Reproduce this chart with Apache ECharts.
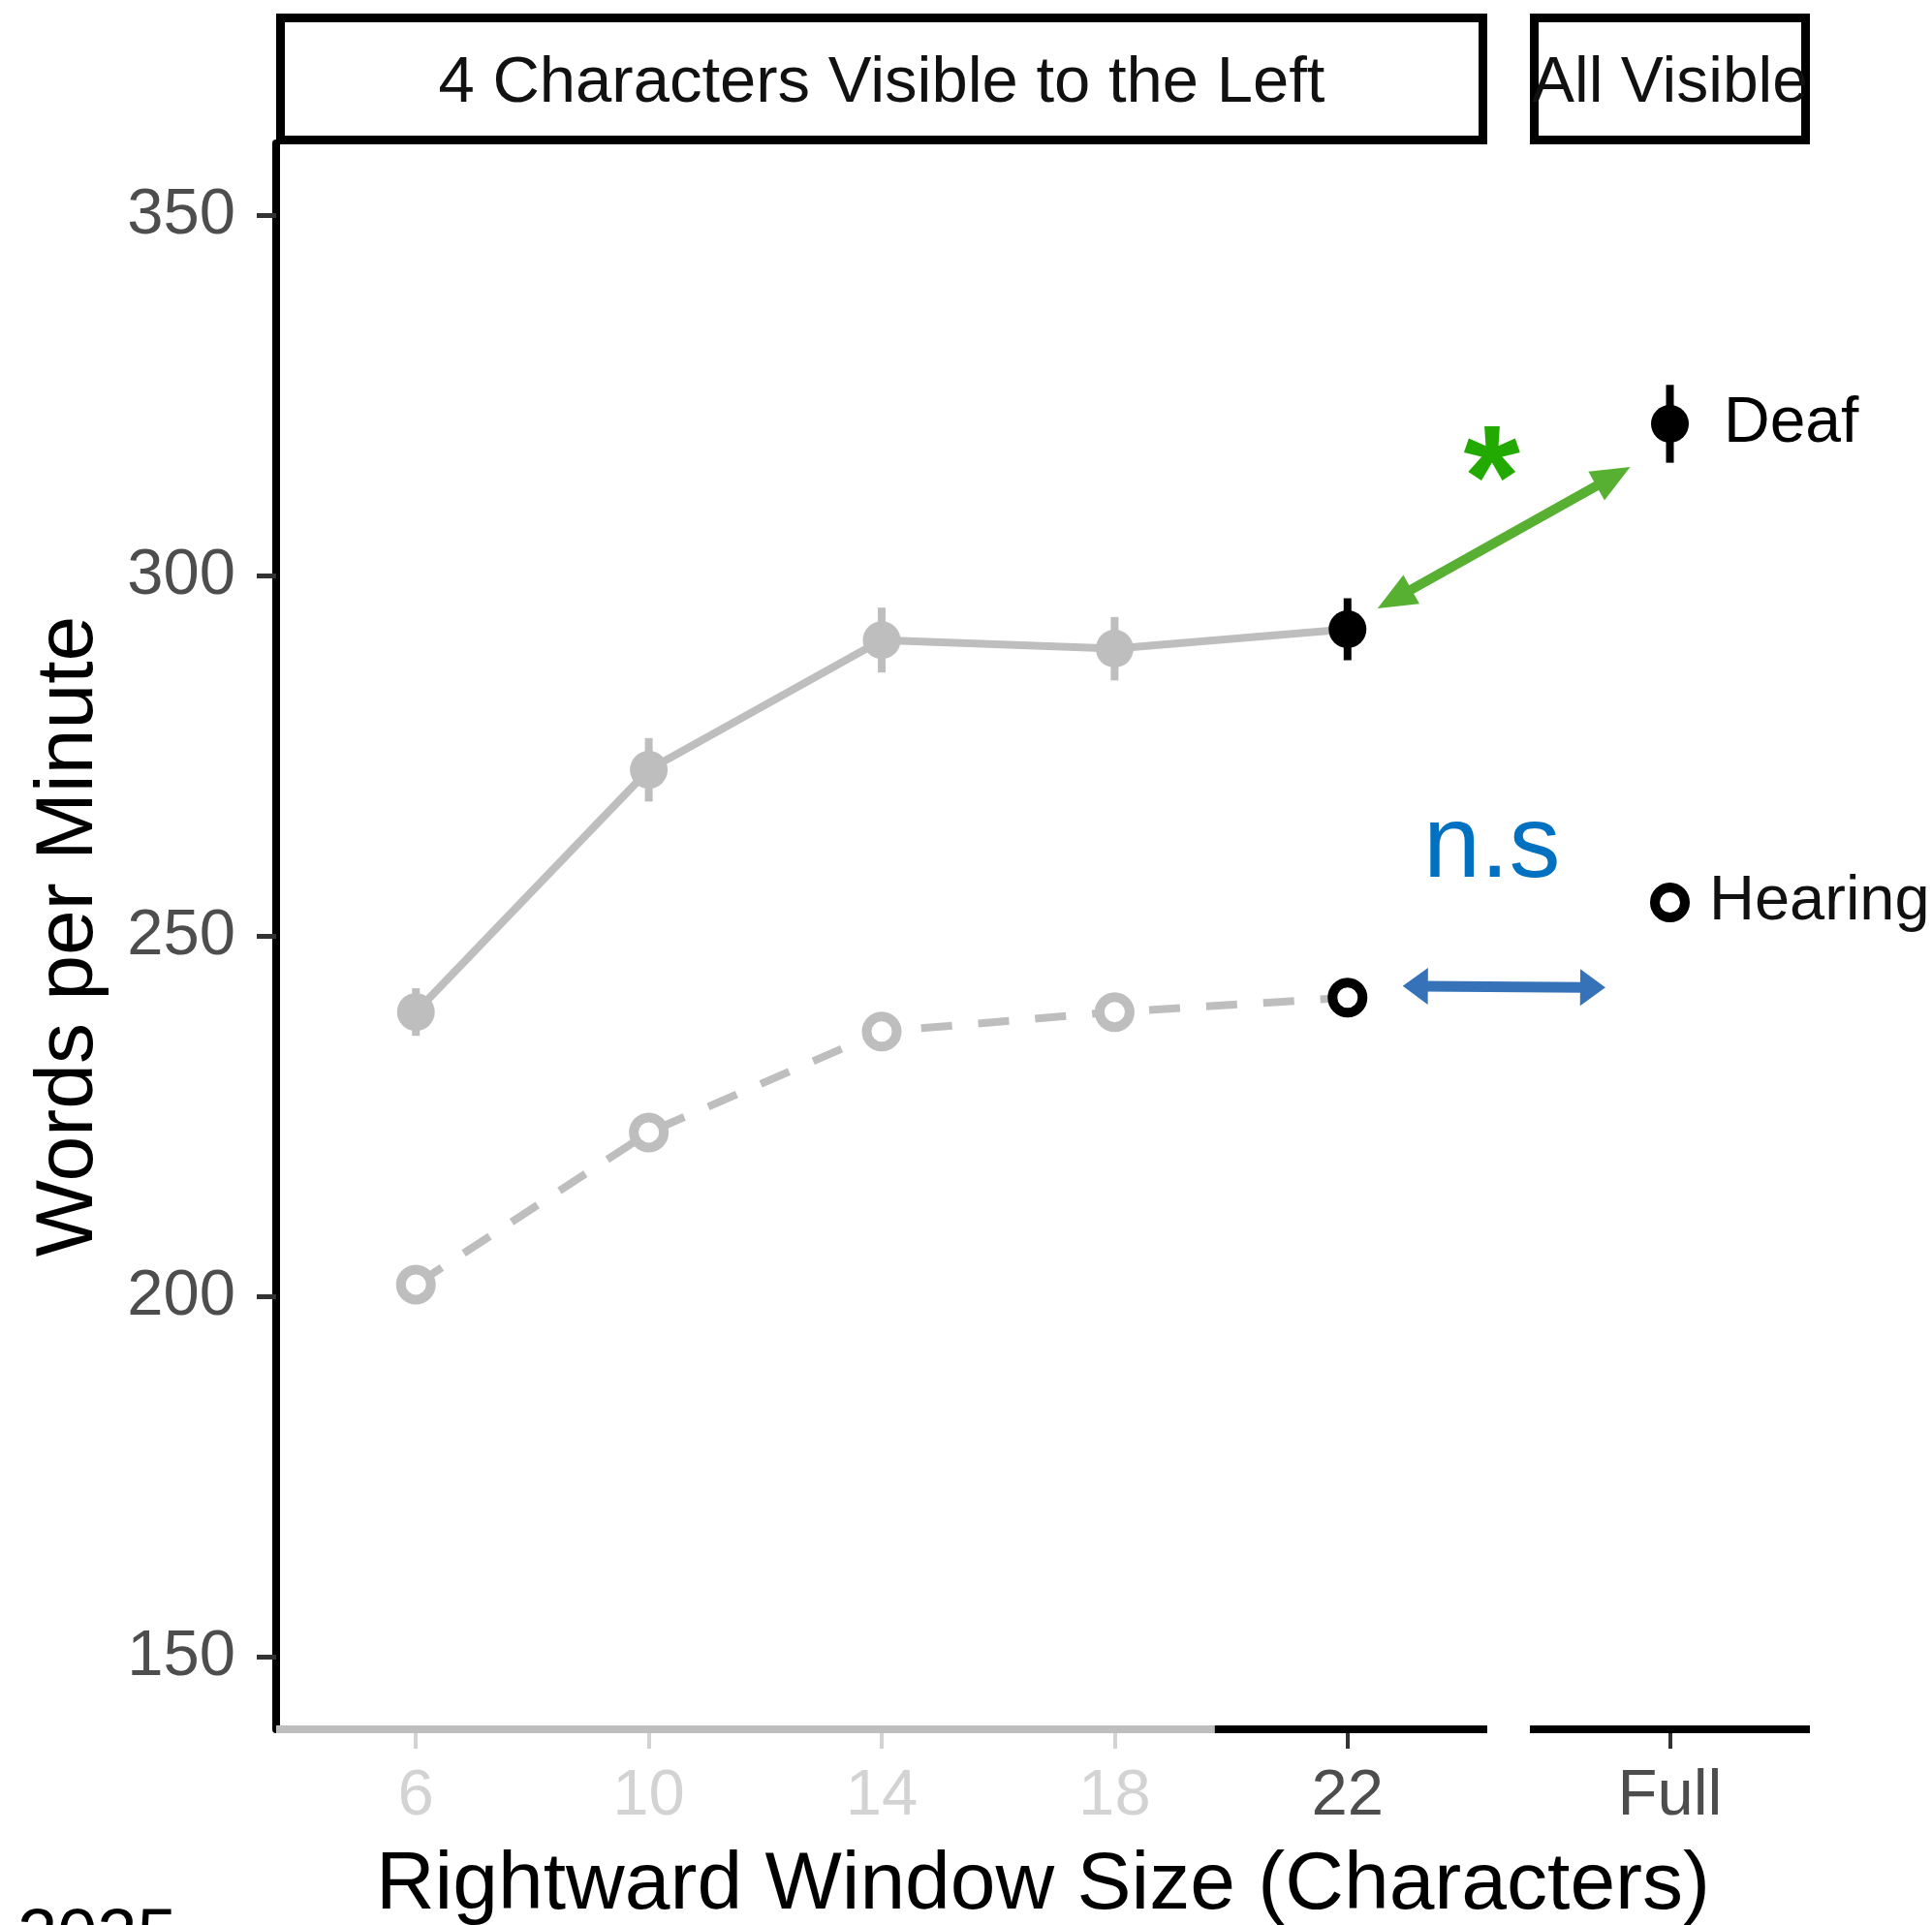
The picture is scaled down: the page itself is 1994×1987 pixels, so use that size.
<!DOCTYPE html>
<html>
<head>
<meta charset="utf-8">
<script src="https://cdn.jsdelivr.net/npm/echarts@6/dist/echarts.min.js"></script>
<style>
  html, body { margin: 0; padding: 0; background: #ffffff; }
  #chart { width: 1994px; height: 1987px; }
</style>
</head>
<body>
<div id="chart"></div>
<script>
// Reading speed by rightward window size (moving-window paradigm)
const categories = ['6', '10', '14', '18', '22'];
const fullCategories = ['Full'];
const deafWpm = [239.5, 273.1, 291.1, 289.9, 292.6];
const deafSe = [3.3, 4.4, 4.5, 4.4, 4.3];
const hearingWpm = [201.7, 222.8, 236.8, 239.5, 241.5];
const deafFullWpm = [321.1];
const deafFullSe = [5.4];
const hearingFullWpm = [254.7];
const yTicks = [150, 200, 250, 300, 350];
const panelTitles = ['4 Characters Visible to the Left', 'All Visible'];
const groupNames = ['Deaf', 'Hearing'];
const yearText = '2025';

const FONT = '"Liberation Sans", Arial, Helvetica, sans-serif';
const GREY = '#BEBEBE';
const LIGHT = '#D3D3D3';
const DARK = '#4D4D4D';
const BLACK = '#000000';
const GREEN_TEXT = '#22AA00';
const GREEN_ARROW = '#58B033';
const BLUE_TEXT = '#0070C0';
const BLUE_ARROW = '#3672B8';

const Y_MIN = 140, Y_MAX = 360;
const last = categories.length - 1;
const idx = categories.map((c, i) => i + 1);

const grids = [
  { left: 285, top: 148, width: 1250, height: 1637 },
  { left: 1579, top: 148, width: 289, height: 1637 }
];

const chart = echarts.init(document.getElementById('chart'), null, { renderer: 'canvas' });

function xAxisBase(gridIndex, n) {
  return {
    type: 'value', gridIndex: gridIndex, position: 'bottom',
    min: 0.4, max: n + 0.6,
    axisLine: { show: false },
    splitLine: { show: false },
    axisPointer: { show: false }
  };
}

const xAxes = [
  Object.assign(xAxisBase(0, categories.length), {
    axisTick: { show: true, customValues: idx.slice(0, last), length: 20,
      lineStyle: { color: LIGHT, width: 4 } },
    axisLabel: { show: true, customValues: idx.slice(0, last), margin: 36,
      formatter: v => categories[Math.round(v) - 1],
      color: LIGHT, fontSize: 67, fontFamily: FONT }
  }),
  Object.assign(xAxisBase(0, categories.length), {
    axisTick: { show: true, customValues: [last + 1], length: 20,
      lineStyle: { color: '#333333', width: 4 } },
    axisLabel: { show: true, customValues: [last + 1], margin: 36,
      formatter: v => categories[Math.round(v) - 1],
      color: DARK, fontSize: 67, fontFamily: FONT }
  }),
  Object.assign(xAxisBase(1, fullCategories.length), {
    axisTick: { show: true, customValues: [1], length: 20,
      lineStyle: { color: '#333333', width: 4 } },
    axisLabel: { show: true, customValues: [1], margin: 36,
      formatter: v => fullCategories[Math.round(v) - 1],
      color: DARK, fontSize: 67, fontFamily: FONT }
  })
];

const yAxes = [
  {
    type: 'value', gridIndex: 0, min: Y_MIN, max: Y_MAX,
    axisLine: { show: true, lineStyle: { color: BLACK, width: 8 } },
    axisTick: { show: true, customValues: yTicks, length: 20,
      lineStyle: { color: '#333333', width: 5 } },
    axisLabel: { show: true, customValues: yTicks, margin: 42,
      color: DARK, fontSize: 67, fontFamily: FONT },
    splitLine: { show: false }
  },
  {
    type: 'value', gridIndex: 1, min: Y_MIN, max: Y_MAX, show: false,
    splitLine: { show: false }
  }
];

// vertical standard-error bars
function errorBarSeries(xAxisIndex, yAxisIndex, xs, means, ses, colorFor) {
  return {
    type: 'custom', xAxisIndex, yAxisIndex, silent: true, z: 3,
    data: means.map((m, i) => [xs[i], m - ses[i], m + ses[i], i]),
    renderItem: function (params, api) {
      const x = api.value(0);
      const lo = api.coord([x, api.value(1)]);
      const hi = api.coord([x, api.value(2)]);
      return {
        type: 'line',
        shape: { x1: lo[0], y1: lo[1], x2: hi[0], y2: hi[1] },
        style: { stroke: colorFor(api.value(3)), lineWidth: 8 }
      };
    }
  };
}

// bottom axis rule drawn in data space
const axisBreak = 4.43;
function ruleSeries(xAxisIndex, yAxisIndex, x0, x1, color) {
  return {
    type: 'line', xAxisIndex, yAxisIndex, silent: true, clip: false, z: 1,
    symbol: 'none', data: [[x0, Y_MIN], [x1, Y_MIN]],
    lineStyle: { color: color, width: 8, cap: 'butt' }
  };
}

const series = [
  ruleSeries(0, 0, 0.4, axisBreak, GREY),
  ruleSeries(0, 0, axisBreak, categories.length + 0.6, BLACK),
  ruleSeries(2, 1, 0.4, fullCategories.length + 0.6, BLACK),

  errorBarSeries(0, 0, idx, deafWpm, deafSe, i => (i === last ? BLACK : GREY)),
  {
    name: groupNames[0], type: 'line', xAxisIndex: 0, yAxisIndex: 0, z: 4,
    data: deafWpm.map((v, i) => ({
      value: [i + 1, v],
      itemStyle: { color: i === last ? BLACK : GREY }
    })),
    symbol: 'circle', symbolSize: 39,
    lineStyle: { color: GREY, width: 8 },
    itemStyle: { color: GREY, borderWidth: 0, opacity: 1 }
  },
  {
    name: groupNames[1], type: 'line', xAxisIndex: 0, yAxisIndex: 0, z: 4,
    data: hearingWpm.map((v, i) => ({
      value: [i + 1, v],
      itemStyle: { borderColor: i === last ? BLACK : GREY }
    })),
    symbol: 'circle', symbolSize: 31,
    lineStyle: { color: GREY, width: 8, type: [32, 27] },
    itemStyle: { color: '#ffffff', borderColor: GREY, borderWidth: 10, opacity: 1 }
  },

  errorBarSeries(2, 1, [1], deafFullWpm, deafFullSe, () => BLACK),
  {
    name: groupNames[0] + ' ' + fullCategories[0], type: 'scatter', xAxisIndex: 2, yAxisIndex: 1, z: 4,
    data: deafFullWpm.map((v, i) => [i + 1, v]),
    symbol: 'circle', symbolSize: 39,
    itemStyle: { color: BLACK, opacity: 1 },
    label: { show: true, position: 'right', distance: 36, formatter: groupNames[0],
      color: BLACK, fontSize: 66, fontFamily: FONT }
  },
  {
    name: groupNames[1] + ' ' + fullCategories[0], type: 'scatter', xAxisIndex: 2, yAxisIndex: 1, z: 4,
    data: hearingFullWpm.map((v, i) => [i + 1, v]),
    symbol: 'circle', symbolSize: 31,
    itemStyle: { color: '#ffffff', borderColor: BLACK, borderWidth: 10, opacity: 1 },
    label: { show: true, position: 'right', distance: 20, formatter: groupNames[1],
      color: '#111111', fontSize: 65, fontFamily: FONT }
  }
];

chart.setOption({
  backgroundColor: '#ffffff',
  animation: false,
  grid: grids.map(g => Object.assign({ containLabel: false }, g)),
  xAxis: xAxes,
  yAxis: yAxes,
  series: series
});

// ----- facet strips, titles and comparison annotations -----
function px(gridIdx, x, y) {
  return chart.convertToPixel({ xAxisIndex: gridIdx === 0 ? 0 : 2, yAxisIndex: gridIdx }, [x, y]);
}

function textEl(text, x, y, size, color, extra, weight) {
  return Object.assign({
    type: 'text', x: x, y: y, silent: true, z: 10,
    style: {
      text: text, fill: color, fontSize: size, fontFamily: FONT, fontWeight: weight || 'normal',
      align: 'center', verticalAlign: 'middle',
      textAlign: 'center', textVerticalAlign: 'middle'
    }
  }, extra || {});
}

function arrowEls(a, b, color, w, headLen, headHalf) {
  const dx = b[0] - a[0], dy = b[1] - a[1];
  const L = Math.hypot(dx, dy);
  const ux = dx / L, uy = dy / L, nx = -uy, ny = ux;
  const inset = headLen * 0.8;
  return [
    { type: 'line', silent: true, z: 10,
      shape: { x1: a[0] + ux * inset, y1: a[1] + uy * inset, x2: b[0] - ux * inset, y2: b[1] - uy * inset },
      style: { stroke: color, lineWidth: w } },
    { type: 'polygon', silent: true, z: 10,
      shape: { points: [b,
        [b[0] - ux * headLen + nx * headHalf, b[1] - uy * headLen + ny * headHalf],
        [b[0] - ux * headLen - nx * headHalf, b[1] - uy * headLen - ny * headHalf]] },
      style: { fill: color } },
    { type: 'polygon', silent: true, z: 10,
      shape: { points: [a,
        [a[0] + ux * headLen + nx * headHalf, a[1] + uy * headLen + ny * headHalf],
        [a[0] + ux * headLen - nx * headHalf, a[1] + uy * headLen - ny * headHalf]] },
      style: { fill: color } }
  ];
}

const graphics = [];

// strips above each panel
grids.forEach((g, i) => {
  const outerL = g.left, outerR = g.left + g.width, outerT = 14, outerB = g.top + 1, bw = 9;
  graphics.push({
    type: 'rect', silent: true, z: 5,
    shape: { x: outerL + bw / 2, y: outerT + bw / 2, width: outerR - outerL - bw, height: outerB - outerT - bw },
    style: { fill: '#ffffff', stroke: BLACK, lineWidth: bw }
  });
  graphics.push(textEl(panelTitles[i], (outerL + outerR) / 2, (outerT + outerB) / 2 + 5,
    i === 0 ? 67 : 66, '#111111'));
});

// axis titles
graphics.push(textEl('Words per Minute', 72, grids[0].top + grids[0].height / 2, 84, BLACK,
  { rotation: Math.PI / 2 }));
graphics.push(textEl('Rightward Window Size (Characters)',
  (grids[0].left + grids[1].left + grids[1].width) / 2, 1947, 84, BLACK));

// year note, bottom left
graphics.push({
  type: 'text', x: 18, y: 1965, silent: true, z: 10,
  style: { text: yearText, fill: BLACK, fontSize: 74, fontFamily: FONT,
    align: 'left', verticalAlign: 'top', textAlign: 'left', textVerticalAlign: 'top' }
});

// Deaf: 22 vs Full, significant
const gA = px(0, 5.129, 295.5), gB = px(1, 0.83, 315.1);
arrowEls(gA, gB, GREEN_ARROW, 10, 40, 17).forEach(e => graphics.push(e));
const star = px(1, 0.237, 312.4);
graphics.push(textEl('*', star[0], star[1], 150, GREEN_TEXT, null, 'bold'));

// Hearing: 22 vs Full, not significant
const bA = px(0, 5.237, 243.1), bB = px(1, 0.7235, 242.9);
arrowEls(bA, bB, BLUE_ARROW, 11, 26, 19).forEach(e => graphics.push(e));
const ns = px(1, 0.237, 262.2);
graphics.push(textEl('n.s', ns[0], ns[1], 106, BLUE_TEXT));

chart.setOption({ graphic: graphics });
</script>
</body>
</html>
